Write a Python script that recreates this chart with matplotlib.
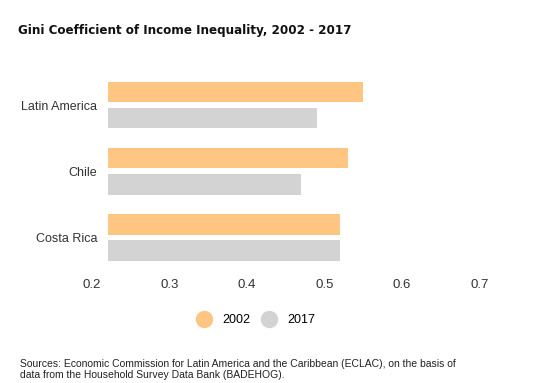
import numpy as np
import matplotlib.pyplot as plt

# Gini coefficients
regions = ['Latin America', 'Chile', 'Costa Rica']
gini_2002 = [0.55, 0.53, 0.52]
gini_2017 = [0.49, 0.47, 0.52]
years = ['2002', '2017']
xticks = [0.2, 0.3, 0.4, 0.5, 0.6, 0.7]

C2002 = '#fec583'
C2017 = '#d3d3d3'
BAR_START = 0.221   # bars begin a little right of the axis minimum

plt.rcParams['font.family'] = ['Liberation Sans', 'DejaVu Sans']

W, H = 536, 383
fig = plt.figure(figsize=(W / 100, H / 100), dpi=100)
ax = fig.add_axes([92 / W, 1 - 270.5 / H, (479.5 - 92) / W, (270.5 - 72) / H])

y = np.arange(len(regions))
off = 0.197
hgt = 0.31
v02 = np.array(gini_2002) - BAR_START
v17 = np.array(gini_2017) - BAR_START
ax.barh(y - off, v02, left=BAR_START, height=hgt, color=C2002, label=years[0])
ax.barh(y + off, v17, left=BAR_START, height=hgt, color=C2017, label=years[1])

ax.set_xlim(0.2, 0.7)
ax.set_ylim(2.5, -0.5)
ax.set_xticks(xticks)
ax.set_xticklabels([f'{t:.1f}' for t in xticks])
ax.set_yticks(y)
ax.set_yticklabels(regions)
ax.tick_params(axis='x', length=0, pad=6, labelsize=9.5, labelcolor='#333333')
ax.tick_params(axis='y', length=0, pad=-3.6, labelsize=9, labelcolor='#333333')
for s in ax.spines.values():
    s.set_visible(False)

# legend with round markers
h1 = plt.Line2D([], [], marker='o', ls='none', ms=11.5, color=C2002)
h2 = plt.Line2D([], [], marker='o', ls='none', ms=11.5, color=C2017)
fig.legend([h1, h2], years, loc='center', bbox_to_anchor=(256.5 / W, 1 - 320 / H),
           ncol=2, frameon=False, fontsize=9, handlelength=1.0,
           handletextpad=0.94, columnspacing=1.0, borderpad=0, borderaxespad=0)

fig.text(18 / W, 1 - 34 / H, 'Gini Coefficient of Income Inequality, 2002 - 2017',
         fontsize=9.5, fontweight='bold', fontstretch='condensed',
         family=['Liberation Sans Narrow', 'DejaVu Sans'],
         va='baseline', color='#111111')

src = ['Sources: Economic Commission for Latin America and the Caribbean (ECLAC), on the basis of',
       'data from the Household Survey Data Bank (BADEHOG).']
for i, line in enumerate(src):
    fig.text(20 / W, 1 - (367 + 11.5 * i) / H, line, fontsize=7.5,
             va='baseline', color='#222222')

fig.savefig('out.png', dpi=100)
